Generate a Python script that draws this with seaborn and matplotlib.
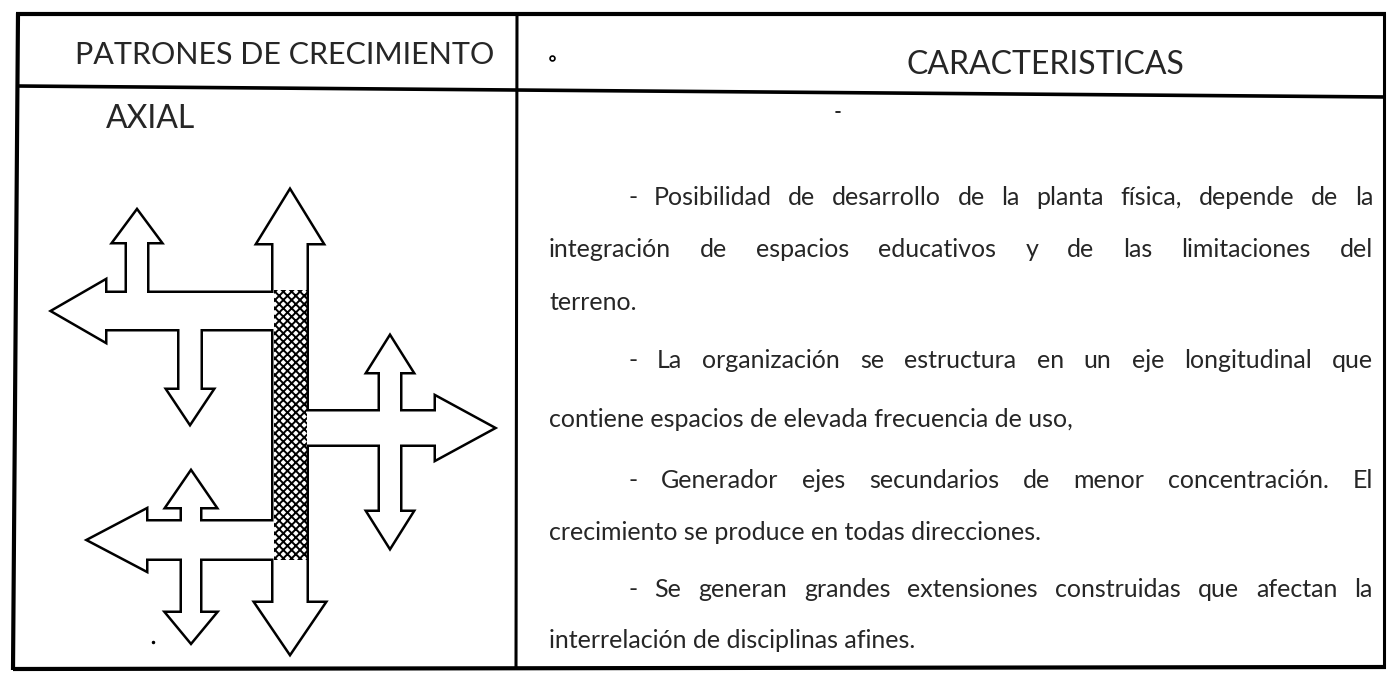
import numpy as np
import matplotlib
matplotlib.use("Agg")
import matplotlib.pyplot as plt
from matplotlib.patches import Polygon, Rectangle
import seaborn as sns

# Textos de la tabla
titulo_izq = "PATRONES DE CRECIMIENTO"
titulo_der = "CARACTERISTICAS"
patron = "AXIAL"

lineas = [
    "- Posibilidad de desarrollo de la planta física, depende de la",
    "integración de espacios educativos y de las limitaciones del",
    "terreno.",
    "- La organización se estructura en un eje longitudinal que",
    "contiene espacios de elevada frecuencia de uso,",
    "- Generador ejes secundarios de menor concentración. El",
    "crecimiento se produce en todas direcciones.",
    "- Se generan grandes extensiones construidas que afectan la",
    "interrelación de disciplinas afines.",
]
lineas_base = [205, 257, 310, 368, 427, 488, 540, 597, 648]
lineas_sangria = [True, False, False, True, False, True, False, True, False]
lineas_justif = [True, True, False, True, False, True, False, True, False]

# Flechas del diagrama axial (pixeles de la imagen): base -> punta
flecha_base_x = [290, 290, 295, 137, 190, 285, 390, 390, 295, 191, 191]
flecha_base_y = [430, 410, 311, 311, 311, 428, 428, 428, 540, 540, 540]
flecha_punta_x = [290, 290, 53, 137, 190, 493, 390, 390, 89, 191, 191]
flecha_punta_y = [191, 653, 311, 211, 423, 428, 337, 547, 540, 472, 642]
flecha_ancho = [16.5, 16.5, 18, 10, 10.5, 16.5, 10, 10, 18.5, 9, 9]
flecha_cabeza = [32, 34, 30, 23, 22, 31, 22, 22, 30, 24, 24]
flecha_largo = [52, 50, 52, 31, 33, 57, 35, 35, 57, 35, 29]

# Tramo rayado del eje principal
rayado_x = [274, 307]
rayado_y = [290, 560]

sns.set_theme(style="white")
plt.rcParams["font.family"] = ["Lato", "DejaVu Sans"]
plt.rcParams["hatch.linewidth"] = 1.4


def flecha(bx, by, tx, ty, w, h, L):
    d = np.array([tx - bx, ty - by], dtype=float)
    d /= np.hypot(*d)
    p = np.array([-d[1], d[0]])
    B = np.array([bx, by], dtype=float)
    T = np.array([tx, ty], dtype=float)
    H = T - L * d
    return np.array([B + w * p, H + w * p, H + h * p, T, H - h * p, H - w * p, B - w * p])


fig = plt.figure(figsize=(13.89, 6.80), dpi=100)
ax = fig.add_axes([0, 0, 1, 1])
ax.set_xlim(0, 1389)
ax.set_ylim(680, 0)
ax.axis("off")

# Marco de la tabla
marco = dict(color="black", solid_capstyle="butt")
ax.plot([16, 1386], [14, 14], lw=3.0, **marco)
ax.plot([18, 13], [13, 670], lw=3.0, **marco)
ax.plot([13, 1386], [669, 667], lw=3.0, **marco)
ax.plot([1384, 1384], [13, 668], lw=2.2, **marco)
ax.plot([517, 516], [13, 668], lw=2.2, **marco)
ax.plot([17, 1386], [86, 97], lw=2.6, **marco)

# Encabezados
ax.text(285, 64, titulo_izq, fontsize=22, ha="center", va="baseline")
ax.text(1045, 74, titulo_der, fontsize=23, ha="center", va="baseline")
ax.text(106, 128, patron, fontsize=23, ha="left", va="baseline")
ax.plot([552], [58], "o", ms=3.5, mfc="white", mec="black", mew=1.2)
ax.plot([836, 840], [112, 112], color="black", lw=1.2)
ax.plot([153], [642], "o", ms=1.5, color="black")

# Diagrama: contorno de la union de flechas
poligonos = [
    flecha(*a)
    for a in zip(flecha_base_x, flecha_base_y, flecha_punta_x, flecha_punta_y,
                 flecha_ancho, flecha_cabeza, flecha_largo)
]
for pts in poligonos:
    ax.add_patch(Polygon(pts, closed=True, fc="white", ec="black", lw=3.6,
                         joinstyle="miter", zorder=2))
for pts in poligonos:
    ax.add_patch(Polygon(pts, closed=True, fc="white", ec="none", lw=0, zorder=3))
ax.add_patch(Rectangle((rayado_x[0], rayado_y[0]), rayado_x[1] - rayado_x[0],
                       rayado_y[1] - rayado_y[0], fill=False, hatch="xxxx",
                       ec="black", lw=0, zorder=4))

# Texto de caracteristicas, justificado
x_margen, x_sangria, x_derecha = 549, 628, 1373
fig.canvas.draw()
rend = fig.canvas.get_renderer()
for texto, yb, sang, just in zip(lineas, lineas_base, lineas_sangria, lineas_justif):
    x0 = x_sangria if sang else x_margen
    if not just:
        ax.text(x0, yb, texto, fontsize=18, ha="left", va="baseline")
        continue
    palabras = texto.split(" ")
    objs = [ax.text(0, yb, p, fontsize=18, ha="left", va="baseline") for p in palabras]
    anchos = [o.get_window_extent(rend).width for o in objs]
    hueco = (x_derecha - x0 - sum(anchos)) / (len(palabras) - 1)
    x = x0
    for o, a in zip(objs, anchos):
        o.set_x(x)
        x += a + hueco

fig.savefig("out.png", dpi=100, facecolor="white")
